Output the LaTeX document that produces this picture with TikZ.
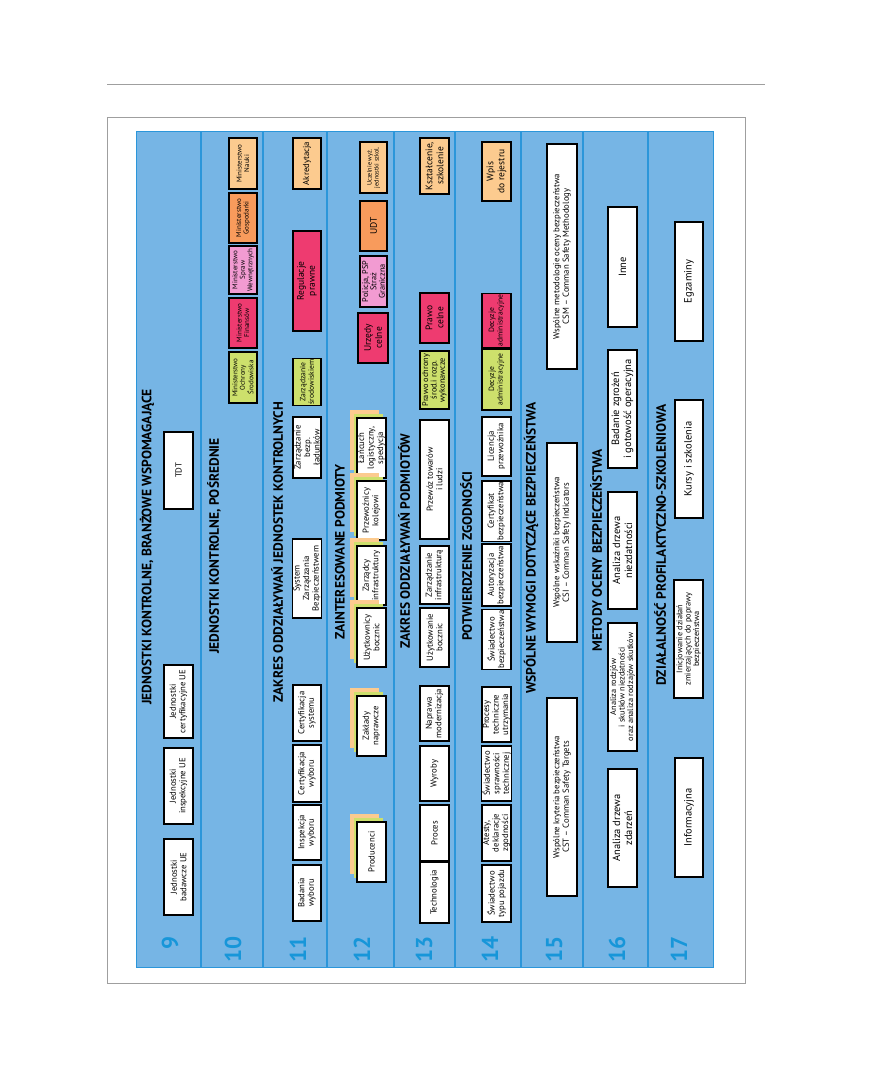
\documentclass[tikz,border=0pt]{standalone}
\usepackage{fontspec}
\setmainfont{PT Sans}
\definecolor{pblue}{HTML}{76B5E5}
\definecolor{prule}{HTML}{2B96DA}
\definecolor{pnum}{HTML}{1796D9}
\definecolor{plorange}{HTML}{FCCB8F}
\definecolor{porange}{HTML}{F89B5C}
\definecolor{ppink}{HTML}{F29BD2}
\definecolor{pred}{HTML}{EE3B70}
\definecolor{pgreen}{HTML}{CDE06C}
\tikzset{
  pbox/.style={draw=black,line width=1.3pt,fill=white,rotate=90,align=center,inner sep=1pt,font=\fontsize{8.7}{9.5}\selectfont},
  ptiny/.style={font=\fontsize{6.3}{7}\selectfont},
  pmini/.style={font=\fontsize{7}{7.5}\selectfont},
  psmall/.style={font=\fontsize{7.6}{8.5}\selectfont},
  pmid/.style={font=\fontsize{8.3}{8.4}\selectfont},
  pbig/.style={font=\fontsize{10.5}{12}\selectfont},
  phead/.style={rotate=90,inner sep=0pt,font=\bfseries\fontsize{13.5}{13.5}\selectfont},
  pnumber/.style={rotate=90,anchor=east,inner sep=0pt,text=pnum,font=\bfseries\fontsize{23}{23}\selectfont},
  prow/.style={prule,line width=1.2pt},
}
\newcommand{\pbx}[7][]{% #1 = extra style, #2 = name, #3/#4 = left/right x, #5/#6 = top/bottom y, #7 = text
  \node[pbox,#1,minimum width={(#6)-(#5)},minimum height={(#4)-(#3)}] (#2) at ({((#3)+(#4))/2},{((#5)+(#6))/2}) {#7};}
\newcommand{\pstack}[4]{% cards behind a box: #1/#2 = x, #3/#4 = y
  \fill[plorange] (#1-7,#3-8) rectangle (#2-7,#4-8);
  \fill[pgreen] (#1-3.5,#3-4) rectangle (#2-3.5,#4-4);}

\begin{document}
\begin{tikzpicture}[x=1pt,y=-1pt]
\useasboundingbox (0,0) rectangle (872,1092);
% page furniture
\draw[gray!75,line width=0.8pt] (107,84) -- (765,84);
\draw[gray!75,line width=0.6pt] (107,117) rectangle (745,983);
\filldraw[fill=pblue,draw=prule,line width=0.8pt] (136,131) rectangle (713,967);
\foreach \X in {201,263,327,394,455,521,583,648}
  \draw[prow] (\X,131) -- (\X,967);
% row numbers and headings
\foreach \X/\N in {170/9,233/10,298/11,362/12,424/13,490/14,554/15,617/16,679/17}
  \node[pnumber] (num\N) at (\X,936) {\N};
\foreach \X/\Y/\N/\T in {147/547/9/{JEDNOSTKI KONTROLNE, BRANŻOWE WSPOMAGAJĄCE},
    214/546/10/{JEDNOSTKI KONTROLNE, POŚREDNIE},
    277/552/11/{ZAKRES ODDZIAŁYWAŃ JEDNOSTEK KONTROLNYCH},
    340/552/12/{ZAINTERESOWANE PODMIOTY},
    404/541/13/{ZAKRES ODDZIAŁYWAŃ PODMIOTÓW},
    466/556/14/{POTWIERDZENIE ZGODNOŚCI},
    531/548/15/{WSPÓLNE WYMOGI DOTYCZĄCE BEZPIECZEŃSTWA},
    596/550/16/{METODY OCENY BEZPIECZEŃSTWA},
    660/545/17/{DZIAŁALNOŚĆ PROFILAKTYCZNO-SZKOLENIOWA}}
  \node[phead] (head\N) at (\X,\Y) {\T};
% row 9
\foreach \N/\A/\B/\T in {a/839/915/{Jednostki\\badawcze UE},b/748/824/{Jednostki\\inspekcyjne UE},
    c/665/738/{Jednostki\\certyfikacyjne UE},d/432/509/{TDT}}{
  \pbx{r9\N}{164}{193}{\A}{\B}{\T}}
% row 10
\foreach \N/\A/\B/\C/\T in {a/138/189/plorange/{Ministerstwo\\Nauki},b/193/243/porange/{Ministerstwo\\Gospodarki},
    c/246/294/ppink/{Ministerstwo\\Spraw\\Wewnętrznych},d/298/348/pred/{Ministerstwo\\Finansów},
    e/352/403/pgreen/{Ministerstwo\\Ochrony\\Środowiska}}{
  \pbx[pmini,fill=\C]{r10\N}{229}{257}{\A}{\B}{\T}}
% row 11
\pbx[fill=plorange]{r11a}{293}{321}{138}{189}{Akredytacja}
\pbx[fill=pred,font=\fontsize{9.5}{11}\selectfont]{r11b}{293}{321}{231}{331}{Regulacje\\prawne}
\pbx[psmall,fill=pgreen]{r11c}{293}{321}{361}{403}{Zarządzanie\\środowiskiem}
\foreach \N/\A/\B/\T in {d/417/478/{Zarządzanie\\bezp.\\ładunków},e/539/618/{System\\Zarządzania\\Bezpieczeństwem},
    f/685/741/{Certyfikacja\\systemu},g/745/802/{Certyfikacja\\wyboru},h/805/860/{Inspekcja\\wyboru},
    i/865/921/{Badania\\wyboru}}{
  \pbx{r11\N}{293}{321}{\A}{\B}{\T}}
% row 12
\pbx[ptiny,fill=plorange]{r12a}{360}{387}{142}{193}{Uczelnie wyż.\\jednostki szkol.}
\pbx[fill=porange,font=\fontsize{9.5}{11}\selectfont]{r12b}{360}{387}{201}{251}{UDT}
\pbx[pmid,fill=ppink]{r12c}{360}{387}{256}{307}{Policja, PSP\\Straż\\Graniczna}
\pbx[fill=pred,font=\fontsize{9.5}{11}\selectfont]{r12d}{358}{388}{313}{363}{Urzędy\\celne}
\foreach \N/\A/\B/\T in {e/418/478/{Łańcuch\\logistyczny,\\spedycja},f/481/540/{Przewoźnicy\\kolejowi},
    g/546/605/{Zarządcy\\infrastruktury},h/608/667/{Użytkownicy\\bocznic},
    i/696/756/{Zakłady\\naprawcze},j/822/882/{Producenci}}{
  \pstack{357}{386}{\A}{\B}
  \pbx{r12\N}{357}{386}{\A}{\B}{\T}}
% row 13
\pbx[fill=plorange,font=\fontsize{9.5}{11}\selectfont]{r13a}{420}{449}{138}{194}{Kształcenie,\\szkolenie}
\pbx[fill=pred,font=\fontsize{9.5}{11}\selectfont]{r13b}{420}{449}{293}{343}{Prawo\\celne}
\pbx[pmid,fill=pgreen]{r13c}{420}{449}{351}{409}{Prawo ochrony\\środ.i rozp.\\wykonawcze}
\foreach \N/\A/\B/\T in {d/420/539/{Przewóz towarów\\i ludzi},e/546/604/{Zarządzanie\\infrastrukturą},
    f/608/667/{Użytkowanie\\bocznic},g/686/741/{Naprawa\\modernizacja},h/746/801/{Wyroby},
    i/805/861/{Proces},j/862/923/{Technologia}}{
  \pbx{r13\N}{420}{449}{\A}{\B}{\T}}
% row 14
\pbx[fill=plorange,font=\fontsize{9.5}{11}\selectfont]{r14a}{482}{511}{142}{201}{Wpis\\do rejestru}
\pbx[psmall,fill=pred]{r14b}{482}{511}{295}{346}{Decyzje\\administracyjne}
\pbx[psmall,fill=pgreen]{r14c}{482}{511}{349}{410}{Decyzje\\administracyjne}
\foreach \N/\A/\B/\T in {d/417/476/{Licencja\\przewoźnika},e/481/541/{Certyfikat\\bezpieczeństwa},
    f/544/606/{Autoryzacja\\bezpieczeństwa},g/610/669/{Świadectwo\\bezpieczeństwa},
    h/687/742/{Procesy\\techniczne\\utrzymania},i/746/801/{Świadectwo\\sprawności\\technicznej},
    j/805/861/{Atesty,\\deklaracje\\zgodności},k/865/922/{Świadectwo\\typu pojazdu}}{
  \pbx{r14\N}{482}{511}{\A}{\B}{\T}}
% row 15
\foreach \N/\A/\B/\T in {a/144/369/{Wspólne metodologie oceny bezpieczeństwa\\CSM – Comman Safety Methodology},
    b/443/642/{Wspólne wskaźniki bezpieczeństwa\\CSI – Comman Safety Indicators},
    c/698/896/{Wspólne kryteria bezpieczeństwa\\CST – Comman Safety Targets}}{
  \pbx{r15\N}{547}{577}{\A}{\B}{\T}}
% row 16
\foreach \N/\A/\B/\T in {a/207/327/{Inne},b/350/468/{Badanie zgrożeń\\i gotowość operacyjna},
    c/492/609/{Analiza drzewa\\niezdatności},e/769/887/{Analiza drzewa\\zdarzeń}}{
  \pbx[pbig]{r16\N}{608}{637}{\A}{\B}{\T}}
\pbx[pmid]{r16d}{608}{637}{623}{751}{Analiza rodzjów\\i skutków niezdatności\\oraz analiza rodzajów skutków}
% row 17
\foreach \N/\A/\B/\T in {a/222/341/{Egzaminy},b/400/518/{Kursy i szkolenia},d/758/877/{Informacyjna}}{
  \pbx[pbig]{r17\N}{675}{703}{\A}{\B}{\T}}
\pbx[pmid]{r17c}{674}{703}{580}{698}{Inicjowanie działań\\zmierzających do poprawy\\bezpieczeństwa}
\end{tikzpicture}
\end{document}
